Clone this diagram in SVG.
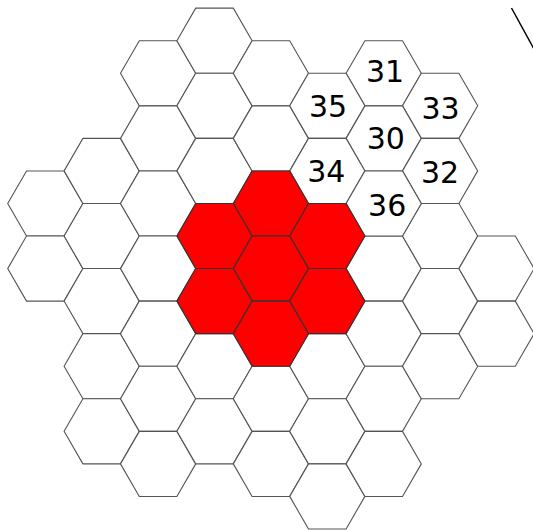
<svg xmlns="http://www.w3.org/2000/svg" xmlns:xlink="http://www.w3.org/1999/xlink" width="533" height="530" viewBox="0 0 533 530">
<style>
.w{fill:#fff;stroke:#555;stroke-width:1.1}
.r{fill:#ff0000;stroke:#333;stroke-width:1.1}
.t{font-family:"DejaVu Sans",sans-serif;font-size:30px;fill:#000;text-anchor:middle}
</style>
<defs>
<polygon id="h" points="-37.6,0 -18.8,-32.55 18.8,-32.55 37.6,0 18.8,32.55 -18.8,32.55"/>
</defs>
<rect width="533" height="530" fill="#fff"/>
<g id="col-m3">
<use id="hx-m3-1" xlink:href="#h" class="w" x="45.3" y="203.5"/>
<use id="hx-m3-2" xlink:href="#h" class="w" x="45.3" y="268.6"/>
</g>
<g id="col-m2">
<use id="hx-m2-1" xlink:href="#h" class="w" x="101.7" y="170.9"/>
<use id="hx-m2-2" xlink:href="#h" class="w" x="101.7" y="236"/>
<use id="hx-m2-3" xlink:href="#h" class="w" x="101.7" y="301.1"/>
<use id="hx-m2-4" xlink:href="#h" class="w" x="101.7" y="366.2"/>
<use id="hx-m2-5" xlink:href="#h" class="w" x="101.7" y="431.3"/>
</g>
<g id="col-m1">
<use id="hx-m1-1" xlink:href="#h" class="w" x="158.1" y="73.3"/>
<use id="hx-m1-2" xlink:href="#h" class="w" x="158.1" y="138.4"/>
<use id="hx-m1-3" xlink:href="#h" class="w" x="158.1" y="203.5"/>
<use id="hx-m1-4" xlink:href="#h" class="w" x="158.1" y="268.6"/>
<use id="hx-m1-5" xlink:href="#h" class="w" x="158.1" y="333.7"/>
<use id="hx-m1-6" xlink:href="#h" class="w" x="158.1" y="398.8"/>
<use id="hx-m1-7" xlink:href="#h" class="w" x="158.1" y="463.9"/>
</g>
<g id="col-0">
<use id="hx-0-1" xlink:href="#h" class="w" x="214.5" y="40.7"/>
<use id="hx-0-2" xlink:href="#h" class="w" x="214.5" y="105.8"/>
<use id="hx-0-3" xlink:href="#h" class="w" x="214.5" y="170.9"/>
<use id="hx-0-6" xlink:href="#h" class="w" x="214.5" y="366.2"/>
<use id="hx-0-7" xlink:href="#h" class="w" x="214.5" y="431.3"/>
</g>
<g id="col-1">
<use id="hx-1-1" xlink:href="#h" class="w" x="270.9" y="73.3"/>
<use id="hx-1-2" xlink:href="#h" class="w" x="270.9" y="138.4"/>
<use id="hx-1-6" xlink:href="#h" class="w" x="270.9" y="398.8"/>
<use id="hx-1-7" xlink:href="#h" class="w" x="270.9" y="463.9"/>
</g>
<g id="col-2">
<use id="hx-2-5" xlink:href="#h" class="w" x="327.3" y="366.2"/>
<use id="hx-2-6" xlink:href="#h" class="w" x="327.3" y="431.3"/>
<use id="hx-2-7" xlink:href="#h" class="w" x="327.3" y="496.4"/>
</g>
<g id="col-3">
<use id="hx-3-4" xlink:href="#h" class="w" x="383.7" y="268.6"/>
<use id="hx-3-5" xlink:href="#h" class="w" x="383.7" y="333.7"/>
<use id="hx-3-6" xlink:href="#h" class="w" x="383.7" y="398.8"/>
<use id="hx-3-7" xlink:href="#h" class="w" x="383.7" y="463.9"/>
</g>
<g id="col-4">
<use id="hx-4-3" xlink:href="#h" class="w" x="440.1" y="236"/>
<use id="hx-4-4" xlink:href="#h" class="w" x="440.1" y="301.1"/>
<use id="hx-4-5" xlink:href="#h" class="w" x="440.1" y="366.2"/>
</g>
<g id="col-5">
<use id="hx-5-1" xlink:href="#h" class="w" x="496.5" y="268.6"/>
<use id="hx-5-2" xlink:href="#h" class="w" x="496.5" y="333.7"/>
</g>
<g id="n31"><use xlink:href="#h" class="w" x="383.7" y="73.3"/><text class="t" x="385" y="82">31</text></g>
<g id="n35"><use xlink:href="#h" class="w" x="327.3" y="105.8"/><text class="t" x="328" y="116.7">35</text></g>
<g id="n33"><use xlink:href="#h" class="w" x="440.1" y="105.8"/><text class="t" x="440.5" y="119">33</text></g>
<g id="n30"><use xlink:href="#h" class="w" x="383.7" y="138.4"/><text class="t" x="385.8" y="149">30</text></g>
<g id="n34"><use xlink:href="#h" class="w" x="327.3" y="170.9"/><text class="t" x="326.3" y="182.3">34</text></g>
<g id="n32"><use xlink:href="#h" class="w" x="440.1" y="170.9"/><text class="t" x="440" y="182.7">32</text></g>
<g id="n36"><use xlink:href="#h" class="w" x="383.7" y="203.5"/><text class="t" x="387.2" y="215.7">36</text></g>
<g id="red">
<use id="r1" xlink:href="#h" class="r" x="270.9" y="203.5"/>
<use id="r2" xlink:href="#h" class="r" x="214.5" y="236"/>
<use id="r3" xlink:href="#h" class="r" x="327.3" y="236"/>
<use id="r4" xlink:href="#h" class="r" x="270.9" y="268.6"/>
<use id="r5" xlink:href="#h" class="r" x="214.5" y="301.1"/>
<use id="r6" xlink:href="#h" class="r" x="327.3" y="301.1"/>
<use id="r7" xlink:href="#h" class="r" x="270.9" y="333.7"/>
</g>
<g id="connectors">
<line x1="511.5" y1="8" x2="540" y2="60" stroke="#000" stroke-width="1.5"/>
</g>
</svg>
